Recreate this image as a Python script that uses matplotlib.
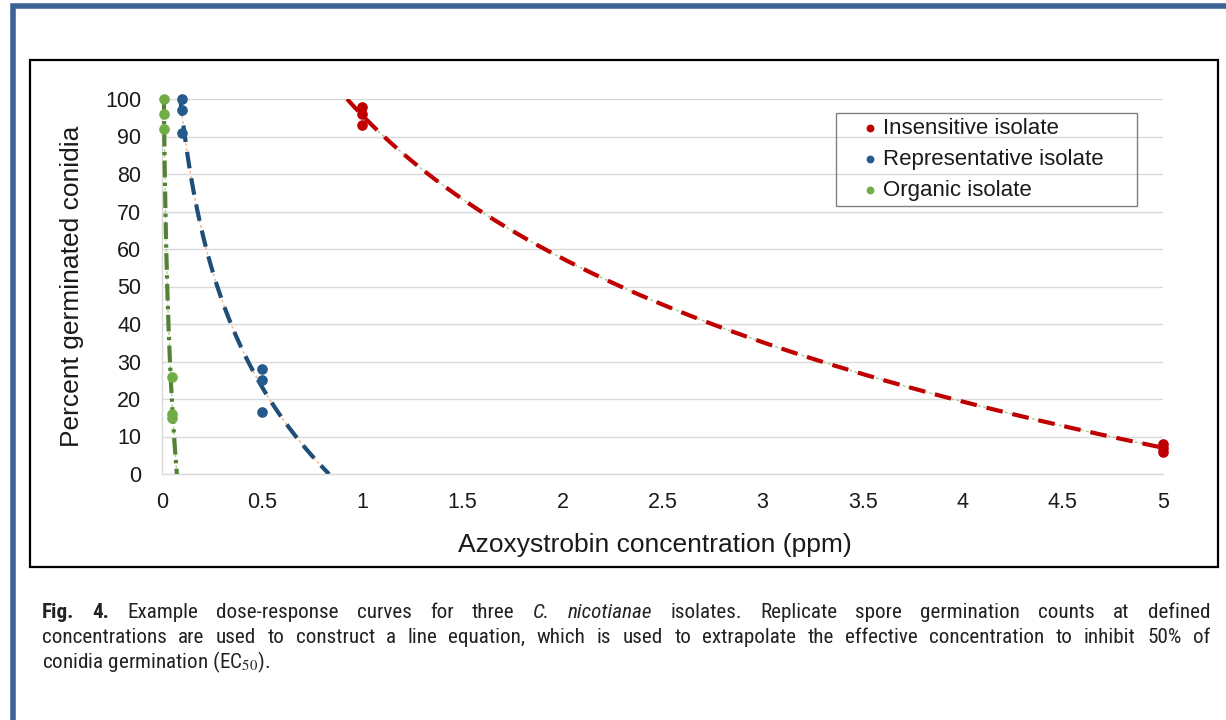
import numpy as np
import matplotlib
matplotlib.use('Agg')
import matplotlib.pyplot as plt
from matplotlib import font_manager
from matplotlib.patches import Rectangle
from matplotlib.lines import Line2D

# replicate germination counts
series_names = ['Insensitive isolate', 'Representative isolate', 'Organic isolate']
insensitive_x = [1, 1, 1, 5, 5, 5]
insensitive_y = [98, 96, 93, 8, 7, 6]
representative_x = [0.1, 0.1, 0.1, 0.5, 0.5, 0.5]
representative_y = [100, 97, 91, 28, 25, 16.5]
organic_x = [0.01, 0.01, 0.01, 0.05, 0.05, 0.05]
organic_y = [100, 96, 92, 26, 16, 15]

x_ticks = [0, 0.5, 1, 1.5, 2, 2.5, 3, 3.5, 4, 4.5, 5]
x_tick_labels = ['0', '0.5', '1', '1.5', '2', '2.5', '3', '3.5', '4', '4.5', '5']
y_ticks = [0, 10, 20, 30, 40, 50, 60, 70, 80, 90, 100]

x_title = 'Azoxystrobin concentration (ppm)'
y_title = 'Percent germinated conidia'

caption_line1 = [('Fig.', 'bold'), ('4.', 'bold'), ('Example', ''), ('dose-response', ''),
                 ('curves', ''), ('for', ''), ('three', ''), ('C.', 'italic'),
                 ('nicotianae', 'italic'), ('isolates.', ''), ('Replicate', ''), ('spore', ''),
                 ('germination', ''), ('counts', ''), ('at', ''), ('defined', '')]
caption_line2 = ('concentrations are used to construct a line equation, which is used to '
                 'extrapolate the effective concentration to inhibit 50% of')
caption_line3 = 'conidia germination (EC$_{50}$).'

W, H = 1226, 720


def log_trend(xs, ys, xmax):
    # excel style logarithmic trendline, clipped to 0..100
    m, b = np.polyfit(np.log(xs), ys, 1)
    x_top = np.exp((100 - b) / m)
    x_bot = min(xmax, np.exp((0 - b) / m))
    xx = np.linspace(x_top, x_bot, 300)
    return xx, m * np.log(xx) + b


def main():
    plt.rcParams['font.family'] = ['Liberation Sans', 'DejaVu Sans']
    fonts = font_manager.fontManager.ttflist
    names = {f.name for f in fonts}
    cap_kw = {'fontfamily': 'Liberation Sans'}
    if 'Liberation Sans Narrow' in names:
        cap_kw = {'fontfamily': 'Liberation Sans Narrow'}
    elif 'Roboto Condensed' in names:
        cap_kw = {'fontfamily': 'Roboto Condensed'}

    fig = plt.figure(figsize=(W / 100, H / 100), dpi=100)
    fig.patch.set_facecolor('white')
    ax = fig.add_axes([162 / W, 1 - 474 / H, (1163 - 162) / W, 375 / H])

    series = [
        (insensitive_x, insensitive_y, '#C00000', '#C00000', (4, 2.4), '#A9C98E'),
        (representative_x, representative_y, '#245A8C', '#1F4E79', (4, 2.4), '#F4B183'),
        (organic_x, organic_y, '#70AD47', '#548235', (4, 1.3, 0.8, 1.3), '#A9D18E'),
    ]
    handles = []
    for (xs, ys, mcol, lcol, dash, thin), name in zip(series, series_names):
        xx, yy = log_trend(xs, ys, 5)
        ax.plot(xx, yy, color=thin, lw=1.0, ls=(0, (2, 2)), zorder=2)
        ax.plot(xx, yy, color=lcol, lw=3.0, dashes=dash, zorder=3)
        sc = ax.scatter(xs, ys, s=44, color=mcol, zorder=5, clip_on=False, label=name)
        handles.append(sc)

    ax.set_xlim(0, 5)
    ax.set_ylim(0, 100)
    ax.set_xticks(x_ticks)
    ax.set_xticklabels(x_tick_labels)
    ax.set_yticks(y_ticks)
    ax.grid(axis='y', color='#D9D9D9', lw=1)
    ax.set_axisbelow(True)
    for s in ['top', 'right']:
        ax.spines[s].set_visible(False)
    for s in ['left', 'bottom']:
        ax.spines[s].set_color('#D9D9D9')
        ax.spines[s].set_linewidth(1)
    ax.tick_params(length=0, labelsize=15.5, labelcolor='#1a1a1a')
    ax.tick_params(axis='y', pad=15)
    ax.tick_params(axis='x', pad=13)

    ax.set_xlabel(x_title, fontsize=19, color='#1a1a1a', va='center')
    ax.xaxis.set_label_coords(0.4925, (474 - 545) / 375)
    ax.set_ylabel(y_title, fontsize=19, color='#1a1a1a', va='center')
    ax.yaxis.set_label_coords((72 - 162) / 1001, 0.5)

    ax.legend(handles, series_names, loc='upper left', bbox_to_anchor=(861 / W, 1 - 118 / H),
              bbox_transform=fig.transFigure, frameon=False, borderpad=0, borderaxespad=0,
              handlelength=0.78, handletextpad=0.2, labelspacing=0.44, fontsize=16,
              markerscale=0.7, labelcolor='#1a1a1a')
    fig.patches.append(Rectangle((836 / W, 1 - 206 / H), 301 / W, 93 / H, fill=False,
                                 edgecolor='#808080', lw=1, transform=fig.transFigure))

    # chart box and blue page frame
    fig.patches.append(Rectangle((30 / W, 1 - 566.5 / H), 1188 / W, 506.5 / H, fill=False,
                                 edgecolor='black', lw=1.6, transform=fig.transFigure))
    fig.lines.append(Line2D([12.5 / W, 12.5 / W, 1.01], [-0.01, 1 - 6 / H, 1 - 6 / H],
                            color='#3C6296', lw=4, solid_joinstyle='miter',
                            transform=fig.transFigure))

    # caption, justified like the journal text
    renderer = fig.canvas.get_renderer()
    x0, x1 = 42, 1210
    probe = fig.text(0, 0, caption_line2, fontsize=12, **cap_kw)
    natural = probe.get_window_extent(renderer).width
    probe.remove()
    cap_size = min(15.2, 12 * 1140 / natural)

    def place(words, base_px, justify):
        texts = []
        for w, st in words:
            t = fig.text(0, 1 - base_px / H, w, fontsize=cap_size,
                         fontweight='bold' if st == 'bold' else 'normal',
                         fontstyle='italic' if st == 'italic' else 'normal',
                         va='baseline', color='#222222', **cap_kw)
            texts.append(t)
        widths = [t.get_window_extent(renderer).width for t in texts]
        gap = (x1 - x0 - sum(widths)) / (len(texts) - 1) if justify else 4
        x = x0
        for t, wd in zip(texts, widths):
            t.set_x(x / W)
            x += wd + gap

    place(caption_line1, 618, True)
    place([(w, '') for w in caption_line2.split(' ')], 643, True)
    fig.text(x0 / W, 1 - 668 / H, caption_line3, fontsize=cap_size,
             va='baseline', color='#222222', math_fontfamily='stix', **cap_kw)

    fig.savefig('out.png', dpi=100)


if __name__ == '__main__':
    main()
